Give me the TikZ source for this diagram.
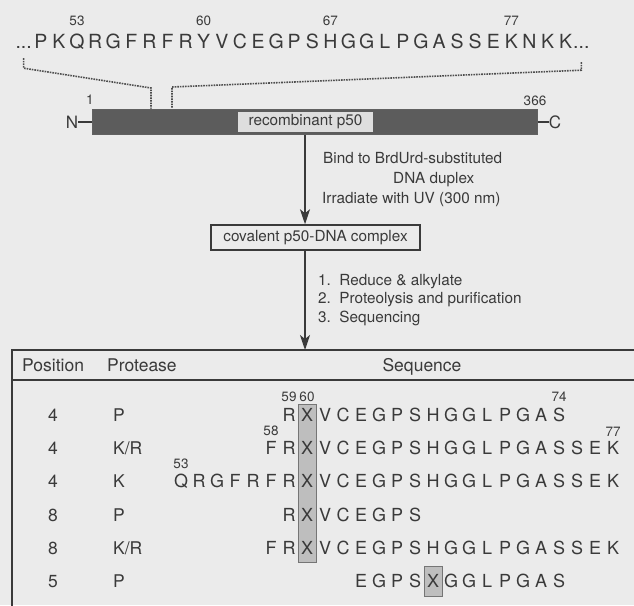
\documentclass[tikz,border=0pt]{standalone}
\usepackage{fontspec}
\setmainfont{TeX Gyre Heros}
\usepackage{xcolor}
\definecolor{paper}{HTML}{EBEBEB}
\definecolor{ink}{HTML}{3A3A3A}
\definecolor{barfill}{HTML}{5C5C5C}
\definecolor{labfill}{HTML}{DEDEDE}
\definecolor{xfill}{HTML}{BEBEBE}
\usepackage{tikz}
\usetikzlibrary{arrows.meta, positioning}

\begin{document}
\begin{tikzpicture}[x=1pt, y=-1pt,
  every node/.style={text=ink, inner sep=0pt},
  topchar/.style={font=\fontsize{19.5}{20}\selectfont, anchor=base},
  tabchar/.style={font=\fontsize{18}{20}\selectfont, anchor=base},
  tabtext/.style={font=\fontsize{17.5}{20}\selectfont, anchor=base west},
  resnum/.style={font=\fontsize{13.5}{14}\selectfont, anchor=base},
  steptext/.style={font=\fontsize{15.3}{18}\selectfont, anchor=base west},
  flowarr/.style={-{Stealth[length=15pt, width=10pt, inset=4pt]}, line width=1.3pt, draw=ink},
  cutline/.style={densely dotted, line width=1.6pt, draw=ink!90},
  rule/.style={line width=1.5pt, draw=ink},
  xbox/.style={fill=xfill, draw=ink!70, line width=0.6pt}
]
  \useasboundingbox (0,0) rectangle (634,605);
  \fill[paper] (0,0) rectangle (634,605);

  % p50 sequence around the cross-link
  \node[topchar, anchor=base east] (ldots) at (32,48) {...};
  \foreach \a [count=\i from 51] in {P,K,Q,R,G,F,R,F,R,Y,V,C,E,G,P,S,H,G,G,L,P,G,A,S,S,E,K,N,K,K}
    \node[topchar] (s-\i) at ({77+(\i-53)*18.1},48) {\a};
  \node[topchar, anchor=base west] (rdots) at (573,48) {...};
  \node[resnum] (t53) at (77,25) {53};
  \node[resnum] (t60) at (203.7,25) {60};
  \node[resnum] (t67) at (330.4,25) {67};
  \node[resnum] (t77) at (511.4,25) {77};

  % protein bar
  \node[draw=ink!80, line width=1pt, fill=barfill, minimum width=445pt, minimum height=25pt] (bar) at (314.5,121.5) {};
  \node[fill=labfill, minimum width=135pt, minimum height=20pt, font=\fontsize{15.3}{18}\selectfont] (lab) at (305.5,122) {recombinant p50};
  \node[font=\fontsize{17}{20}\selectfont] (nterm) at (72,122) {N};
  \node[font=\fontsize{17}{20}\selectfont] (cterm) at (555,122) {C};
  \draw[rule] (nterm.east) -- (nterm.east -| bar.west);
  \draw[rule] (cterm.west -| bar.east) -- (cterm.west);
  \node[resnum] (n1) at (90,104) {1};
  \node[resnum] (n366) at (535,105) {366};

  \coordinate (cut1) at (151,88);
  \coordinate (cut2) at (172,87);
  \draw[cutline] ([yshift=-10pt]ldots.south) -- ++(0,10) -- (cut1) -- (cut1 |- bar.north);
  \draw[cutline] ([yshift=-14pt]rdots.south) -- ++(0,8) -- (cut2) -- (cut2 |- bar.north);

  % steps
  \coordinate (axis) at (305,0);
  \node[draw=ink, line width=1.5pt, minimum width=209pt, minimum height=25pt, font=\fontsize{15.3}{18}\selectfont] (cplx) at (315.5,237.5) {covalent p50-DNA complex};
  \draw[flowarr] (bar.south -| axis) -- (cplx.north -| axis);
  \node[steptext] (bind1) at (323,163.5) {Bind to BrdUrd-substituted};
  \node[steptext] (bind2) at (393,183.5) {DNA duplex};
  \node[steptext] (bind3) at (322,203.5) {Irradiate with UV (300 nm)};

  \coordinate (tabtop) at (305,350);
  \draw[flowarr] (cplx.south -| axis) -- (tabtop);
  \node[steptext] (stp1) at (318,285.5) {1.~~Reduce \& alkylate};
  \node[steptext] (stp2) at (318,303.8) {2.~~Proteolysis and purification};
  \node[steptext] (stp3) at (318,322.2) {3.~~Sequencing};

  % table
  \draw[rule] (12,610) -- (12,350) -- (640,350);
  \draw[rule] (12,380) -- (640,380);
  \node[tabtext] (hpos) at (22,371) {Position};
  \node[tabtext] (hprot) at (107,371) {Protease};
  \node[tabtext, anchor=base] (hseq) at (422,371) {Sequence};

  \filldraw[xbox] (298,404) rectangle (316,562);
  \filldraw[xbox] (424,566) rectangle (442,596);

  \node[tabtext, anchor=base] (p1) at (53,421.5) {4};
  \node[tabtext] (e1) at (113,421.5) {P};
  \foreach \a [count=\i from 59] in {R,X,V,C,E,G,P,S,H,G,G,L,P,G,A,S}
    \node[tabchar] (r1-\i) at ({307+(\i-60)*18},421.5) {\a};

  \node[tabtext, anchor=base] (p2) at (53,454.7) {4};
  \node[tabtext] (e2) at (113,454.7) {K/R};
  \foreach \a [count=\i from 58] in {F,R,X,V,C,E,G,P,S,H,G,G,L,P,G,A,S,S,E,K}
    \node[tabchar] (r2-\i) at ({307+(\i-60)*18},454.7) {\a};

  \node[tabtext, anchor=base] (p3) at (53,487.9) {4};
  \node[tabtext] (e3) at (113,487.9) {K};
  \foreach \a [count=\i from 53] in {Q,R,G,F,R,F,R,X,V,C,E,G,P,S,H,G,G,L,P,G,A,S,S,E,K}
    \node[tabchar] (r3-\i) at ({307+(\i-60)*18},487.9) {\a};

  \node[tabtext, anchor=base] (p4) at (53,521.1) {8};
  \node[tabtext] (e4) at (113,521.1) {P};
  \foreach \a [count=\i from 59] in {R,X,V,C,E,G,P,S}
    \node[tabchar] (r4-\i) at ({307+(\i-60)*18},521.1) {\a};

  \node[tabtext, anchor=base] (p5) at (53,554.3) {8};
  \node[tabtext] (e5) at (113,554.3) {K/R};
  \foreach \a [count=\i from 58] in {F,R,X,V,C,E,G,P,S,H,G,G,L,P,G,A,S,S,E,K}
    \node[tabchar] (r5-\i) at ({307+(\i-60)*18},554.3) {\a};

  \node[tabtext, anchor=base] (p6) at (53,587.5) {5};
  \node[tabtext] (e6) at (113,587.5) {P};
  \foreach \a [count=\i from 63] in {E,G,P,S,X,G,G,L,P,G,A,S}
    \node[tabchar] (r6-\i) at ({307+(\i-60)*18},587.5) {\a};

  \node[resnum] (m59) at (289,401) {59};
  \node[resnum] (m60) at (307,401) {60};
  \node[resnum] (m74) at (559,401) {74};
  \node[resnum] (m58) at (271,435) {58};
  \node[resnum] (m77) at (613,436) {77};
  \node[resnum] (m53) at (181,468) {53};
\end{tikzpicture}
\end{document}
